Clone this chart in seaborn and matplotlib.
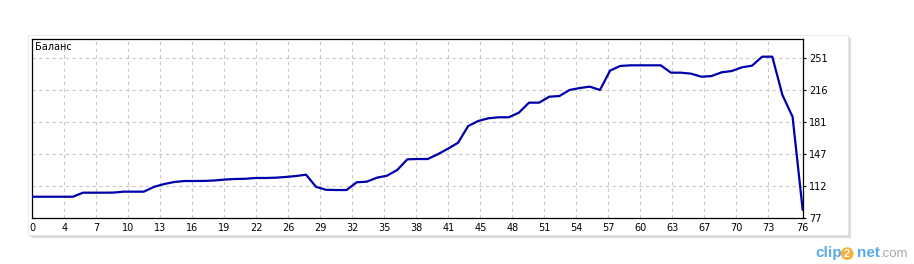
import numpy as np
import pandas as pd
import matplotlib
matplotlib.use("Agg")
import matplotlib.pyplot as plt
from matplotlib.patches import Rectangle
import seaborn as sns

# ---- data ----
trade_no = list(range(77))
balance = [99.8, 99.8, 99.8, 99.8, 99.8, 104.2, 104.2, 104.2, 104.3, 105.3,
           105.3, 105.3, 110.5, 113.6, 115.8, 116.9, 116.9, 117.0, 117.5, 118.5,
           119.1, 119.3, 120.2, 120.2, 120.5, 121.3, 122.3, 123.8, 110.5, 107.3,
           107.1, 107.1, 115.5, 116.2, 120.5, 122.7, 128.9, 140.5, 140.8, 140.8,
           146.0, 152.0, 158.5, 176.7, 182.2, 185.1, 186.2, 186.2, 191.2, 202.1,
           202.1, 208.6, 209.3, 215.9, 218.0, 219.5, 215.9, 237.0, 242.0, 242.7,
           242.7, 242.7, 242.7, 234.7, 234.7, 233.6, 230.3, 231.0, 235.1, 236.5,
           240.5, 242.3, 252.1, 252.1, 210.4, 186.8, 85.4]
x_tick_labels = ["0", "4", "7", "10", "13", "16", "19", "22", "26", "29", "32",
                 "35", "38", "41", "45", "48", "51", "54", "57", "60", "63",
                 "67", "70", "73", "76"]
y_tick_labels = ["77", "112", "147", "181", "216", "251"]
title_text = "Баланс"

df = pd.DataFrame({"trade": trade_no, "balance": balance})

sns.set_style("white")
plt.rcParams["font.family"] = ["DejaVu Sans"]

W, H = 914, 264
fig = plt.figure(figsize=(W / 100, H / 100), dpi=100)
fig.patch.set_facecolor("white")

# card with soft shadow
cx0, cy0, cx1, cy1 = 28, 35, 848, 235
for i, a in enumerate([0.10, 0.08, 0.06, 0.04]):
    off = 1 + i
    fig.patches.append(Rectangle(((cx0 + off) / W, 1 - (cy1 + off) / H),
                                 (cx1 - cx0) / W, (cy1 - cy0) / H,
                                 transform=fig.transFigure, facecolor="black",
                                 alpha=a, edgecolor="none", zorder=0))
fig.patches.append(Rectangle((cx0 / W, 1 - cy1 / H), (cx1 - cx0) / W,
                             (cy1 - cy0) / H, transform=fig.transFigure,
                             facecolor="white", edgecolor="#e6e6e6",
                             linewidth=0.6, zorder=1))

# axes
L, R, T, B = 32.3, 802.7, 39.3, 217.7
ax = fig.add_axes([L / W, 1 - B / H, (R - L) / W, (B - T) / H], zorder=2)
ax.set_facecolor("white")

sns.lineplot(data=df, x="trade", y="balance", ax=ax, color="#0000AA",
             linewidth=1.6, zorder=3)

x_max = 76
ax.set_xlim(0, x_max)
ax.set_ylim(77, 271)

px_per_unit = (R - L) / x_max
xt = [k * 32 / px_per_unit for k in range(len(x_tick_labels) - 1)] + [x_max]
ax.set_xticks(xt)
ax.set_xticklabels(x_tick_labels)

y_step = 34.8
yt = [77 + k * y_step for k in range(len(y_tick_labels))]
ax.set_yticks(yt)
ax.set_yticklabels(y_tick_labels)

ax.yaxis.tick_right()
ax.tick_params(axis="both", which="major", labelsize=7, length=2.5,
               width=0.8, color="black", labelcolor="black", pad=1.5,
               direction="out")
ax.tick_params(axis="y", pad=2)
ax.set_xlabel("")
ax.set_ylabel("")

ax.grid(True, color="#c8c8c8", linestyle=(0, (3, 3)), linewidth=0.8)
ax.set_axisbelow(True)
for s in ax.spines.values():
    s.set_color("black")
    s.set_linewidth(0.9)
    s.set_visible(True)

ax.text(0.004, 0.985, title_text, transform=ax.transAxes, ha="left",
        va="top", fontsize=7, color="black", zorder=4)

# watermark
wm_font = ["Liberation Sans", "DejaVu Sans"]
t1 = fig.text(815 / W, 1 - 257 / H, "clip", fontsize=11, fontweight="bold",
              family=wm_font, color="#3d9be0", ha="left", va="baseline",
              alpha=0.85)
a2 = ax.annotate("2", xy=(1, 0), xycoords=t1, xytext=(1.8, 1.0),
                 textcoords="offset points", fontsize=8, fontweight="bold",
                 family=wm_font, color="white", ha="left", va="bottom",
                 annotation_clip=False,
                 bbox=dict(boxstyle="circle,pad=0.12", fc="#f5a623",
                           ec="none", alpha=0.9))
a3 = ax.annotate("net", xy=(1, 0), xycoords=t1, xytext=(11, 0),
                 textcoords="offset points", fontsize=11, fontweight="bold",
                 family=wm_font, color="#3d9be0", ha="left", va="bottom",
                 annotation_clip=False, alpha=0.85)
a4 = ax.annotate(".com", xy=(1, 0), xycoords=a3, xytext=(0, 0),
                 textcoords="offset points", fontsize=9.5, family=wm_font,
                 color="#a8a8a8", ha="left", va="bottom",
                 annotation_clip=False)

fig.savefig("out.png", dpi=100, facecolor="white")
